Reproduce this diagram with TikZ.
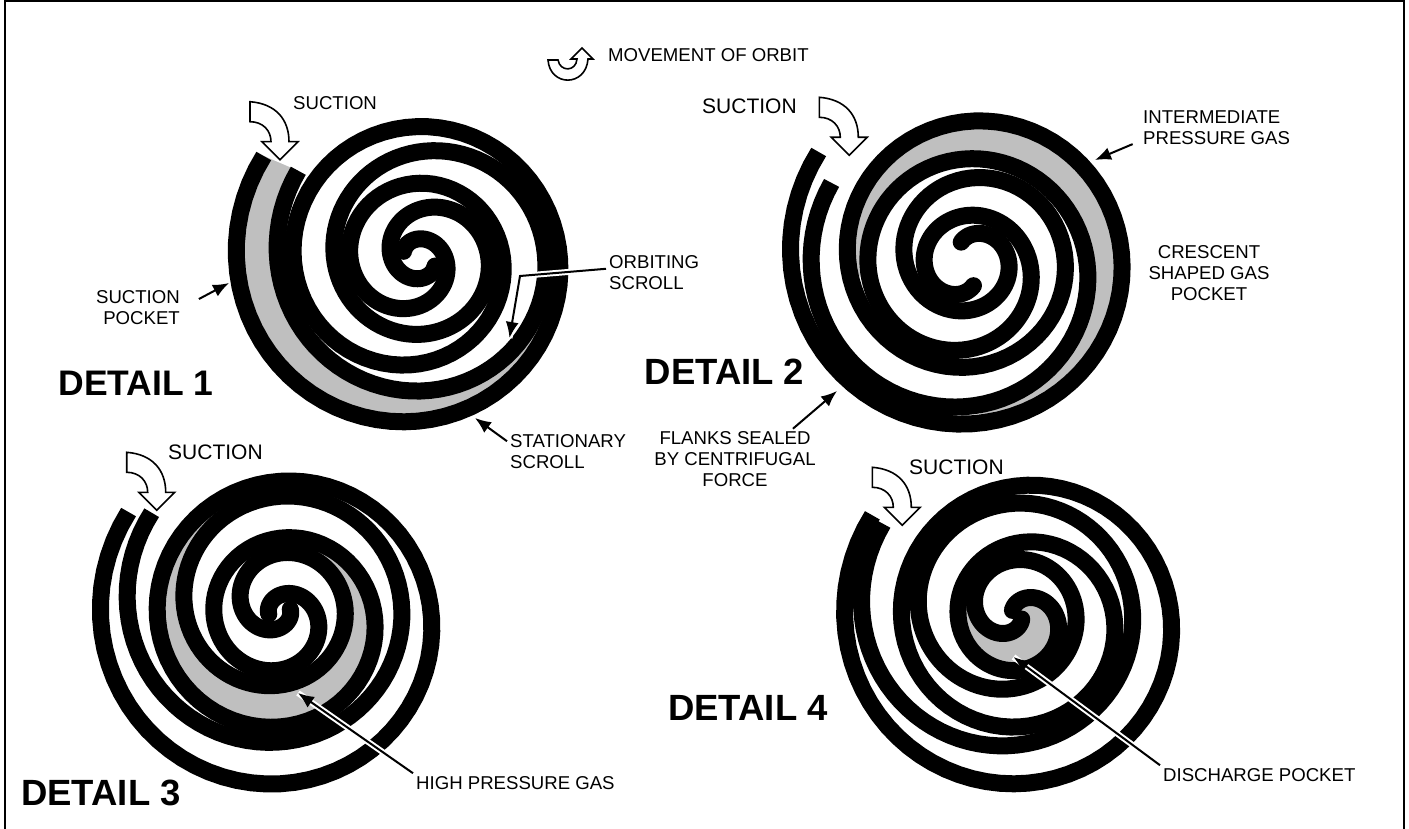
\documentclass[tikz,border=0pt]{standalone}
\usepackage{fontspec}
\setmainfont{Liberation Sans}
\usetikzlibrary{arrows.meta}

% Centres and radii of the two scrolls of one detail
\newcommand{\setscrolls}[6]{%
    \def\fixx{#1}\def\fixy{#2}\def\fixr{#3}%
    \def\orbx{#4}\def\orby{#5}\def\orbr{#6}%
}
\def\scrollrate{0.158}
\newcommand{\scrollarm}[5]{%
    \draw[scrollline] plot[domain=#4:#5] ({#1+(#3-\scrollrate*(\x-180))*cos(\x)}, {#2-(#3-\scrollrate*(\x-180))*sin(\x)});
    \fill ({#1+(#3-\scrollrate*(#5-180))*cos(#5)}, {#2-(#3-\scrollrate*(#5-180))*sin(#5)}) circle (8.5);
}
\newcommand{\stationaryarm}[2]{\scrollarm{\fixx}{\fixy}{\fixr}{#1}{#2}}
\newcommand{\orbitingarm}[2]{\scrollarm{\orbx}{\orby}{\orbr}{#1}{#2}}
\newcommand{\gaspocket}[4]{%
    \fill[pocketgray] plot[domain=#1:#2] ({\fixx+(\fixr-\scrollrate*(\x-180))*cos(\x)}, {\fixy-(\fixr-\scrollrate*(\x-180))*sin(\x)})
        -- plot[domain=#4:#3] ({\orbx+(\orbr-\scrollrate*(\x-180))*cos(\x)}, {\orby-(\orbr-\scrollrate*(\x-180))*sin(\x)}) -- cycle;
}

\definecolor{pocketgray}{gray}{0.75}
\tikzset{
    >={Latex[length=16pt,width=13pt]},
    samples=220,
    scrollline/.style={line width=17pt, line join=round},
    label/.style={font=\fontsize{18.6}{21}\selectfont, inner sep=3pt, align=left},
    biglabel/.style={font=\fontsize{21}{24}\selectfont, inner sep=3pt},
    detaillabel/.style={font=\fontsize{36.5}{40}\selectfont\bfseries, inner sep=0pt},
    pointer/.style={->, line width=2pt},
    halo/.style={line width=6pt, white},
    suctionarrow/.pic={
        \draw[fill=white, line width=1.6pt]
            (0,0) .. controls (26,2) and (39,18) .. (39,40) -- (48,40) -- (30,58) -- (12,40) -- (21,40)
            .. controls (21,29) and (13,20) .. (0,20) -- cycle;
    },
}

\begin{document}
\begin{tikzpicture}[x=1pt, y=-1pt]
    \useasboundingbox (0,0) rectangle (1409,829);
    \draw[line width=2pt] (5,829) -- (5,1.5) -- (1404,1.5) -- (1404,829);

    % Orbit symbol
    \draw[line width=1.6pt] (548,60) .. controls (550,87) and (586,87) .. (588,59) -- (593,59) -- (582,48) -- (571,59) -- (577,59)
        .. controls (576,72) and (560,72) .. (558,60) -- cycle;
    \node[label, anchor=west] (orbitlabel) at ({605}, {55}) {MOVEMENT OF ORBIT};

    % Detail 1
    \setscrolls{412.3}{260}{175.8}{425.7}{256.7}{148.3}
    \gaspocket{145}{345}{146}{345}
    \stationaryarm{145}{1215}
    \orbitingarm{146}{1035}
    \pic at ({250}, {101.7}) {suctionarrow};
    \node[label, anchor=west] (suctiona) at ({290}, {103}) {SUCTION};
    \node[label, anchor=east, align=right] (pocketa) at ({183}, {307.5}) {SUCTION\\POCKET};
    \node[label, anchor=west] (orbiting) at ({606}, {273}) {ORBITING\\SCROLL};
    \node[label, anchor=west] (stationary) at ({507}, {452}) {STATIONARY\\SCROLL};
    \node[detaillabel, font=\fontsize{35.5}{40}\selectfont\bfseries] (detaila) at ({136}, {383}) {DETAIL 1};
    \coordinate (pocketatip) at ({229}, {283});
    \coordinate (orbitingbend) at ({520}, {276});
    \coordinate (orbitingtip) at ({509.5}, {338});
    \coordinate (stationarytip) at ({475}, {418});
    \draw[pointer, shorten <=18pt] (pocketa.east) -- (pocketatip);
    \draw[halo, yshift=2pt] (orbiting.175) -- (orbitingbend) -- (orbitingtip);
    \draw[pointer] (orbiting.175) -- (orbitingbend) -- (orbitingtip);
    \draw[pointer] (stationary.170) -- (stationarytip);

    % Detail 2
    \setscrolls{970.5}{258.3}{179.8}{963.7}{268.7}{152.3}
    \gaspocket{275}{547}{275}{547}
    \stationaryarm{145}{1200}
    \orbitingarm{147}{1020}
    \pic at ({819.3}, {97.3}) {suctionarrow};
    \node[biglabel, anchor=west] (suctionb) at ({699}, {106}) {SUCTION};
    \node[label, anchor=west] (intermediate) at ({1140}, {127.5}) {INTERMEDIATE\\PRESSURE GAS};
    \node[label, align=center] (crescent) at ({1209}, {273}) {CRESCENT\\SHAPED GAS\\POCKET};
    \node[label, align=center] (flanks) at ({735}, {459.5}) {FLANKS SEALED\\BY CENTRIFUGAL\\FORCE};
    \node[detaillabel] (detailb) at ({724.5}, {372}) {DETAIL 2};
    \coordinate (intermediatetip) at ({1095}, {160});
    \coordinate (flankstip) at ({837}, {391});
    \draw[pointer, shorten <=8pt] (intermediate.190) -- (intermediatetip);
    \draw[pointer] (flanks.28) -- (flankstip);

    % Detail 3
    \setscrolls{280.3}{618.3}{179.7}{278.7}{605}{151.3}
    \gaspocket{455}{805}{455}{805}
    \stationaryarm{145}{1240}
    \orbitingarm{144}{1060}
    \pic at ({126.7}, {452.3}) {suctionarrow};
    \node[biglabel, anchor=west] (suctionc) at ({165}, {452}) {SUCTION};
    \node[label, anchor=west] (highpressure) at ({413}, {783}) {HIGH PRESSURE GAS};
    \node[detaillabel] (detailc) at ({101}, {793}) {DETAIL 3};
    \coordinate (highpressuretip) at ({298}, {693});
    \draw[halo, xshift=-1.5pt, yshift=2pt] (highpressure.north west) -- (highpressuretip);
    \draw[pointer] (highpressure.north west) -- (highpressuretip);

    % Detail 4
    \setscrolls{1022.3}{620.3}{177.5}{1011.3}{610.3}{149.5}
    \gaspocket{890}{1200}{890}{1040}
    \stationaryarm{145}{1215}
    \orbitingarm{146}{1040}
    \pic at ({872.3}, {467.3}) {suctionarrow};
    \node[biglabel, anchor=west] (suctiond) at ({906}, {467}) {SUCTION};
    \node[label, anchor=west] (discharge) at ({1160}, {775}) {DISCHARGE POCKET};
    \node[detaillabel] (detaild) at ({748}, {708}) {DETAIL 4};
    \coordinate (dischargetip) at ({1013.5}, {657});
    \draw[halo, xshift=-1.5pt, yshift=2pt] (discharge.north west) -- (dischargetip);
    \draw[pointer] (discharge.north west) -- (dischargetip);
\end{tikzpicture}
\end{document}
